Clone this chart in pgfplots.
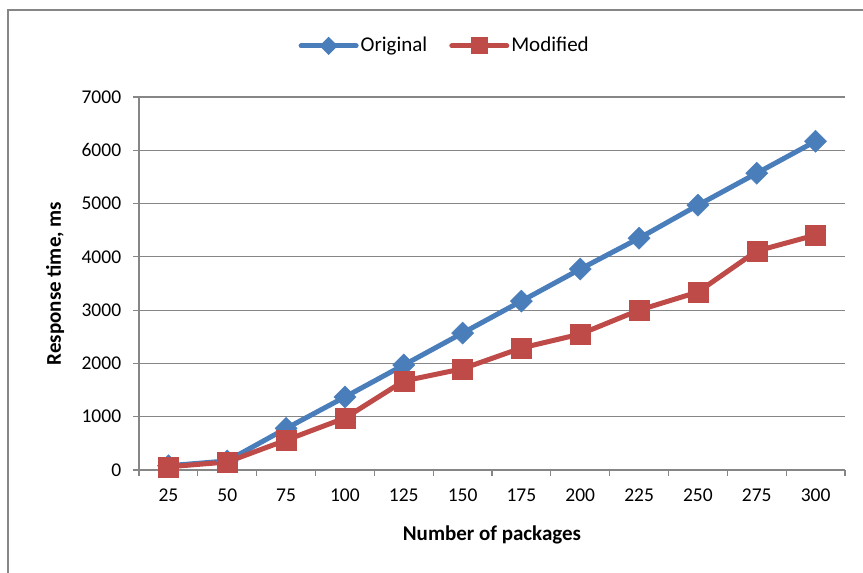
\documentclass[border=0pt]{standalone}
\usepackage{pgfplots}
\pgfplotsset{compat=1.18}
\usepackage{fontspec}
\setmainfont{Carlito}
\definecolor{serblue}{HTML}{4A7EBB}
\definecolor{serred}{HTML}{BE4B48}
\definecolor{gridgray}{HTML}{868686}
\begin{document}
\fontsize{20}{24}\selectfont
\begin{tikzpicture}
  \useasboundingbox (0,0) rectangle (863pt,573pt);
  \draw[gridgray, line width=1.2pt] (8pt,0) -- (8pt,563pt) -- (863pt,563pt);
  \begin{axis}[
      at={(139pt,103pt)}, anchor=south west,
      scale only axis,
      width=706pt, height=373pt,
      xmin=0.5, xmax=12.5,
      ymin=0, ymax=7000,
      xtick={0.5,1.5,...,12.5},
      xticklabels={25,50,75,100,125,150,175,200,225,250,275,300},
      x tick label as interval=true,
      ytick={0,1000,...,7000},
      axis lines*=left,
      axis line style={gridgray, line width=1.2pt},
      tick align=outside,
      major tick length=6pt,
      tick style={gridgray, line width=1.2pt},
      ymajorgrids,
      grid style={gridgray, line width=1.2pt},
      /pgf/number format/assume math mode=true,
      /pgf/number format/1000 sep={},
      ticklabel style={font=\fontsize{19.5}{23}\selectfont},
      yticklabel style={xshift=-5pt},
      xticklabel style={yshift=-6pt},
      xlabel={\textbf{Number of packages}},
      ylabel={\textbf{Response time, ms}},
      xlabel style={yshift=-11pt},
      ylabel style={yshift=4pt},
      label style={font=\fontsize{21}{25}\selectfont},
      legend style={at={(0.433,1.137)}, anchor=center, draw=none,
        font=\fontsize{21}{25}\selectfont, column sep=0pt,
        nodes={inner xsep=2pt}},
      legend columns=2,
      /tikz/every even column/.append style={column sep=20pt},
    ]
    \addplot[serblue, line width=5pt, mark=square*,
      mark options={scale=3.9, rotate=45, solid, line width=0.5pt},
      legend image code/.code={
        \draw[serblue, line width=5pt, line cap=round] (0pt,0pt) -- (55pt,0pt);
        \fill[serblue, rotate around={45:(27.5pt,0pt)}]
          (23.5pt,-4pt) rectangle (31.5pt,4pt);
      }] coordinates {
        (1,80) (2,170) (3,780) (4,1370) (5,1970) (6,2570)
        (7,3170) (8,3770) (9,4350) (10,4970) (11,5570) (12,6170)
      };
    \addlegendentry{Original}
    \addplot[serred, line width=5pt, mark=square*,
      mark options={scale=5, solid, line width=0.5pt},
      legend image code/.code={
        \draw[serred, line width=5pt, line cap=round] (0pt,0pt) -- (55pt,0pt);
        \fill[serred] (21.5pt,-6pt) rectangle (33.5pt,6pt);
      }] coordinates {
        (1,60) (2,150) (3,560) (4,975) (5,1670) (6,1900)
        (7,2290) (8,2550) (9,3000) (10,3340) (11,4110) (12,4410)
      };
    \addlegendentry{Modified}
  \end{axis}
\end{tikzpicture}
\end{document}
